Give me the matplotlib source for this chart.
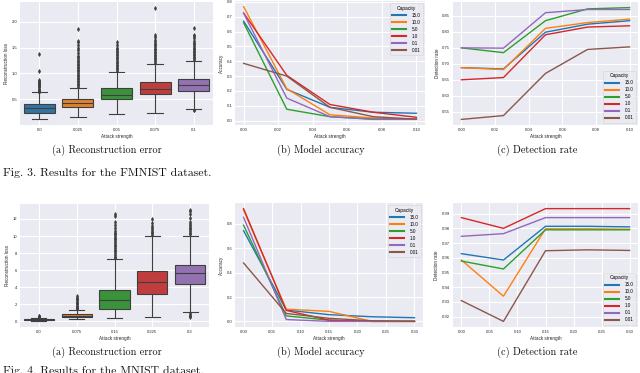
import matplotlib
matplotlib.use('Agg')
import matplotlib.pyplot as plt

# ---------------- data ----------------
capacities = ['15.0', '10.0', '5.0', '1.0', '0.1', '0.01']
line_colors = ['#1f77b4', '#ff7f0e', '#2ca02c', '#d62728', '#9467bd', '#8c564b']
box_colors = ['#3274a1', '#e1812c', '#3a923a', '#c03d3e', '#9372b2']

fm_strength = [0.0, 0.025, 0.05, 0.075, 0.1]
fm_box_labels = ['0.0', '0.025', '0.05', '0.075', '0.1']
# per box: whislo, q1, med, q3, whishi
fm_whislo = [0.115, 0.167, 0.224, 0.244, 0.314]
fm_q1 = [0.244, 0.360, 0.506, 0.596, 0.660]
fm_med = [0.333, 0.436, 0.590, 0.710, 0.770]
fm_q3 = [0.410, 0.513, 0.718, 0.833, 0.890]
fm_whishi = [0.635, 0.718, 1.032, 1.190, 1.240]
fm_fliers = [
    [0.65, 0.67, 0.69, 0.71, 0.73, 0.75, 0.77, 0.79, 0.81, 0.83, 0.85, 0.87, 1.05, 1.38],
    [0.74, 0.77, 0.80, 0.83, 0.86, 0.89, 0.92, 0.95, 0.98, 1.01, 1.04, 1.07, 1.10, 1.13,
     1.16, 1.19, 1.22, 1.25, 1.28, 1.31, 1.34, 1.40, 1.45, 1.50, 1.55, 1.60, 1.62, 1.85],
    [1.05, 1.08, 1.11, 1.14, 1.17, 1.20, 1.23, 1.26, 1.29, 1.32, 1.35, 1.38, 1.41, 1.44,
     1.47, 1.50, 1.55, 1.60],
    [1.21, 1.24, 1.27, 1.30, 1.33, 1.36, 1.39, 1.42, 1.45, 1.48, 1.51, 1.54, 1.57, 1.60,
     1.65, 1.70, 1.74, 2.27],
    [0.30, 0.29, 1.26, 1.29, 1.32, 1.35, 1.38, 1.41, 1.44, 1.47, 1.50, 1.53, 1.56, 1.59,
     1.63, 1.68, 1.72, 1.75, 1.87],
]
fm_accuracy = [
    [0.670, 0.211, 0.090, 0.057, 0.050],
    [0.768, 0.215, 0.040, 0.018, 0.011],
    [0.659, 0.077, 0.027, 0.011, 0.010],
    [0.725, 0.305, 0.109, 0.057, 0.023],
    [0.723, 0.152, 0.027, 0.009, 0.009],
    [0.386, 0.300, 0.090, 0.027, 0.010],
]
fm_detection = [
    [0.688, 0.684, 0.799, 0.824, 0.835],
    [0.688, 0.682, 0.811, 0.829, 0.840],
    [0.750, 0.735, 0.835, 0.872, 0.876],
    [0.650, 0.657, 0.791, 0.815, 0.819],
    [0.750, 0.749, 0.860, 0.870, 0.870],
    [0.526, 0.538, 0.670, 0.745, 0.753],
]

mn_strength = [0.0, 0.075, 0.15, 0.225, 0.3]
mn_box_labels = ['0.0', '0.075', '0.15', '0.225', '0.3']
mn_whislo = [0.00, 0.25, 0.35, 0.50, 1.12]
mn_q1 = [0.12, 0.55, 1.46, 3.23, 4.42]
mn_med = [0.20, 0.68, 2.50, 4.60, 5.70]
mn_q3 = [0.30, 0.85, 3.73, 5.92, 6.62]
mn_whishi = [0.45, 1.30, 7.27, 10.00, 10.05]
mn_fliers = [
    [0.50, 0.55, 0.60, 0.65],
    [1.40, 1.55, 1.70, 1.85, 2.00, 2.15, 2.30, 2.45, 2.60, 2.80, 2.95],
    [7.4, 7.6, 7.8, 8.0, 8.2, 8.4, 8.6, 8.8, 9.0, 9.2, 9.4, 9.6, 9.8, 10.0, 10.2, 10.4,
     10.6, 11.0, 11.3, 11.6, 12.4, 12.6],
    [10.1, 10.3, 10.5, 10.7, 10.9, 11.2, 11.5, 12.0],
    [0.50, 0.65, 0.80, 0.95, 10.2, 10.4, 10.6, 10.8, 11.0, 11.2, 11.4, 11.7, 12.1,
     12.6, 12.9, 13.1],
]
mn_accuracy = [
    [0.745, 0.093, 0.055, 0.038, 0.030],
    [0.915, 0.100, 0.082, 0.000, 0.000],
    [0.790, 0.045, 0.010, 0.000, 0.000],
    [0.926, 0.090, 0.010, 0.000, 0.000],
    [0.855, 0.015, 0.000, 0.000, 0.000],
    [0.480, 0.065, 0.025, 0.005, 0.000],
]
mn_detection = [
    [0.9628, 0.9585, 0.9814, 0.9814, 0.9810],
    [0.9585, 0.9339, 0.9797, 0.9797, 0.9794],
    [0.9578, 0.9524, 0.9790, 0.9790, 0.9790],
    [0.9873, 0.9800, 0.9934, 0.9934, 0.9934],
    [0.9746, 0.9764, 0.9873, 0.9873, 0.9873],
    [0.9309, 0.9168, 0.9648, 0.9654, 0.9650],
]

fm_acc_ticks = [0.0, 0.1, 0.2, 0.3, 0.4, 0.5, 0.6, 0.7, 0.8]
fm_det_ticks = [0.55, 0.60, 0.65, 0.70, 0.75, 0.80, 0.85]
fm_line_xticks = [0.00, 0.02, 0.04, 0.06, 0.08, 0.10]
mn_acc_ticks = [0.0, 0.2, 0.4, 0.6, 0.8]
mn_det_ticks = [0.92, 0.93, 0.94, 0.95, 0.96, 0.97, 0.98, 0.99]
mn_line_xticks = [0.00, 0.05, 0.10, 0.15, 0.20, 0.25, 0.30]

# ---------------- drawing ----------------
W, H = 640, 373
fig = plt.figure(figsize=(W / 100, H / 100), dpi=100)
fig.patch.set_facecolor('white')

TICK_FS = 3.0
LAB_FS = 3.3
SANS = 'Liberation Sans'


def ax_px(l, t, r, b):
    return fig.add_axes([l / W, 1 - b / H, (r - l) / W, (b - t) / H])


def style(ax):
    ax.set_facecolor('#EAEAF2')
    ax.grid(True, color='white', linewidth=0.8)
    ax.set_axisbelow(True)
    for s in ax.spines.values():
        s.set_visible(False)
    ax.tick_params(length=0, pad=2, labelsize=TICK_FS, colors='#262626')
    for lab in ax.get_xticklabels() + ax.get_yticklabels():
        lab.set_fontfamily(SANS)


def labels(ax, ylabel):
    ax.set_xlabel('Attack strength', fontsize=LAB_FS, family=SANS, labelpad=1.5, color='#262626')
    ax.set_ylabel(ylabel, fontsize=LAB_FS, family=SANS, labelpad=2, color='#262626')


def boxpanel(ax, whislo, q1, med, q3, whishi, fliers, xlabels):
    stats = []
    for i in range(len(med)):
        stats.append(dict(whislo=whislo[i], q1=q1[i], med=med[i], q3=q3[i],
                          whishi=whishi[i], fliers=fliers[i]))
    bp = ax.bxp(stats, positions=list(range(len(med))), widths=0.8, patch_artist=True,
                showfliers=True,
                boxprops=dict(edgecolor='#3f3f3f', linewidth=0.8),
                medianprops=dict(color='#3f3f3f', linewidth=0.8),
                whiskerprops=dict(color='#3f3f3f', linewidth=0.8),
                capprops=dict(color='#3f3f3f', linewidth=0.8),
                flierprops=dict(marker='d', markersize=2.2, markerfacecolor='#3f3f3f',
                                markeredgecolor='#3f3f3f', markeredgewidth=0.3))
    for patch, c in zip(bp['boxes'], box_colors):
        patch.set_facecolor(c)
    ax.set_xticks(list(range(len(med))))
    ax.set_xticklabels(xlabels)
    ax.set_xlim(-0.5, len(med) - 0.5)
    style(ax)
    labels(ax, 'Reconstruction loss')


def linepanel(ax, x, series, xticks, yticks, yfmt, ylabel, legloc):
    for vals, c, lab in zip(series, line_colors, capacities):
        ax.plot(x, vals, color=c, linewidth=1.0, label=lab)
    ax.set_xticks(xticks)
    ax.set_xticklabels(['%.2f' % v for v in xticks])
    ax.set_yticks(yticks)
    ax.set_yticklabels([yfmt % v for v in yticks])
    style(ax)
    labels(ax, ylabel)
    leg = ax.legend(title='Capacity', loc=legloc, prop={'family': SANS, 'size': 3.3},
                    title_fontproperties={'family': SANS, 'size': 3.5},
                    handlelength=3.0, handletextpad=1.2, borderpad=0.5, labelspacing=0.45,
                    frameon=True, fancybox=True, framealpha=0.8, borderaxespad=0.5)
    leg.get_frame().set_linewidth(0.4)
    leg.get_frame().set_edgecolor('#cccccc')
    leg.get_frame().set_facecolor('#EAEAF2')
    for h in leg.legend_handles:
        h.set_linewidth(1.5)


# top row (FMNIST)
ax1 = ax_px(20, 2, 213, 125)
boxpanel(ax1, fm_whislo, fm_q1, fm_med, fm_q3, fm_whishi, fm_fliers, fm_box_labels)
ax1.set_yticks([0.5, 1.0, 1.5, 2.0])

ax2 = ax_px(235, 1, 425, 125)
linepanel(ax2, fm_strength, fm_accuracy, fm_line_xticks, fm_acc_ticks, '%.1f', 'Accuracy', 'upper right')

ax3 = ax_px(453, 2, 638, 125)
linepanel(ax3, fm_strength, fm_detection, fm_line_xticks, fm_det_ticks, '%.2f', 'Detection rate', 'lower right')

# bottom row (MNIST)
ax4 = ax_px(20, 204, 209, 327)
boxpanel(ax4, mn_whislo, mn_q1, mn_med, mn_q3, mn_whishi, mn_fliers, mn_box_labels)
ax4.set_yticks([0, 2, 4, 6, 8, 10, 12])

ax5 = ax_px(235, 203, 423, 327)
linepanel(ax5, mn_strength, mn_accuracy, mn_line_xticks, mn_acc_ticks, '%.1f', 'Accuracy', 'upper right')

ax6 = ax_px(453, 203, 638, 327)
linepanel(ax6, mn_strength, mn_detection, mn_line_xticks, mn_det_ticks, '%.2f', 'Detection rate', 'lower right')

# captions
CAP_FS = 7.4
FIG_FS = 8.5
SERIF = 'cmr10'


def ftext(xp, yp, s, fs, ha='center', va='center'):
    fig.text(xp / W, 1 - yp / H, s, fontsize=fs, family=SERIF, ha=ha, va=va, color='#111111')


ftext(107, 150, '(a) Reconstruction error', CAP_FS)
ftext(321, 150, '(b) Model accuracy', CAP_FS)
ftext(537, 150, '(c) Detection rate', CAP_FS)
ftext(3, 173, 'Fig. 3. Results for the FMNIST dataset.', FIG_FS, ha='left')

ftext(107, 352, '(a) Reconstruction error', CAP_FS)
ftext(321, 352, '(b) Model accuracy', CAP_FS)
ftext(537, 352, '(c) Detection rate', CAP_FS)
ftext(3, 366, 'Fig. 4. Results for the MNIST dataset.', FIG_FS, ha='left', va='top')

fig.savefig('out.png', dpi=100)
